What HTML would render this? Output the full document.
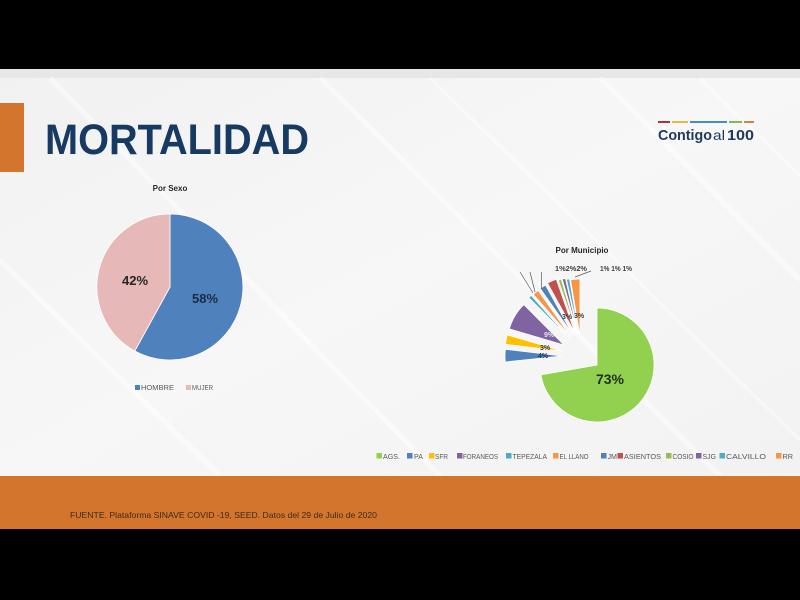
<!DOCTYPE html>
<html>
<head>
<meta charset="utf-8">
<style>
html,body{margin:0;padding:0;background:#000;}
body{width:800px;height:600px;overflow:hidden;position:relative;font-family:"Liberation Sans",sans-serif;}
svg{position:absolute;left:0;top:0;}
</style>
</head>
<body>
<svg width="800" height="600" viewBox="0 0 800 600" xmlns="http://www.w3.org/2000/svg">
  <defs>
    <linearGradient id="bg" x1="0" y1="0" x2="1" y2="1">
      <stop offset="0" stop-color="#f1f1f1"/>
      <stop offset="0.5" stop-color="#f7f7f7"/>
      <stop offset="1" stop-color="#f2f2f2"/>
    </linearGradient>
  </defs>
  <!-- black frame -->
  <rect x="0" y="0" width="800" height="600" fill="#000"/>
  <!-- slide background -->
  <rect x="0" y="69" width="800" height="407" fill="url(#bg)"/>
  <rect x="0" y="69" width="800" height="9" fill="#e7e7e7"/>
  <!-- faint diagonal streaks -->
  <g stroke="#ffffff" stroke-width="5" opacity="0.5">
    <line x1="50" y1="78" x2="440" y2="476"/>
    <line x1="320" y1="78" x2="720" y2="476"/>
    <line x1="600" y1="78" x2="800" y2="280"/>
    <line x1="0" y1="260" x2="220" y2="476"/>
  </g>
  <g stroke="#ffffff" stroke-width="3" opacity="0.45">
    <line x1="430" y1="78" x2="800" y2="440"/>
    <line x1="700" y1="78" x2="800" y2="176"/>
  </g>

  <!-- left orange tab -->
  <rect x="0" y="103" width="24" height="69" fill="#d4752e"/>
  <!-- bottom orange bar -->
  <rect x="0" y="476" width="800" height="53" fill="#d4752e"/>
  <text x="70" y="518" font-family="Liberation Sans, sans-serif" font-size="8.5" fill="#3b2a1c" textLength="307" lengthAdjust="spacingAndGlyphs">FUENTE. Plataforma SINAVE COVID -19, SEED. Datos del 29 de Julio de 2020</text>

  <!-- title -->
  <text x="45" y="154" font-family="Liberation Sans, sans-serif" font-weight="bold" font-size="42.5" fill="#163a61" textLength="264" lengthAdjust="spacingAndGlyphs">MORTALIDAD</text>

  <!-- logo -->
  <rect x="658" y="121" width="12" height="2" fill="#a8343f"/>
  <rect x="672" y="121" width="16" height="2" fill="#e6b74a"/>
  <rect x="690" y="121" width="37" height="2" fill="#3f8fc9"/>
  <rect x="729" y="121" width="13" height="2" fill="#86b84a"/>
  <rect x="744" y="121" width="10" height="2" fill="#d4843f"/>
  <text x="658" y="140" font-family="Liberation Sans, sans-serif" font-weight="bold" font-size="15" fill="#1d3a5c" textLength="54" lengthAdjust="spacingAndGlyphs">Contigo</text>
  <text x="713" y="140" font-family="Liberation Sans, sans-serif" font-size="14" fill="#1d3a5c" textLength="12" lengthAdjust="spacingAndGlyphs">al</text>
  <text x="727" y="140" font-family="Liberation Sans, sans-serif" font-weight="bold" font-size="15" fill="#1d3a5c" textLength="27" lengthAdjust="spacingAndGlyphs">100</text>

  <!-- Pie 1: Por Sexo -->
  <text x="170" y="191" text-anchor="middle" font-family="Liberation Sans, sans-serif" font-weight="bold" font-size="8" fill="#262626">Por Sexo</text>
  <path d="M170,287 L170,214 A73,73 0 1,1 134.8,351 Z" fill="#4f81bd" stroke="#ffffff" stroke-width="0.8"/>
  <path d="M170,287 L134.8,351 A73,73 0 0,1 170,214 Z" fill="#e6b8b7" stroke="#ffffff" stroke-width="0.8"/>
  <text x="135" y="285" text-anchor="middle" font-family="Liberation Sans, sans-serif" font-weight="bold" font-size="13" fill="#262626">42%</text>
  <text x="205" y="303" text-anchor="middle" font-family="Liberation Sans, sans-serif" font-weight="bold" font-size="13" fill="#1a2b44">58%</text>
  <rect x="135" y="385" width="5" height="5" fill="#4f81bd"/>
  <text x="141" y="390" font-family="Liberation Sans, sans-serif" font-size="7" fill="#595959" textLength="33" lengthAdjust="spacingAndGlyphs">HOMBRE</text>
  <rect x="186" y="385" width="5" height="5" fill="#e6b8b7"/>
  <text x="192" y="390" font-family="Liberation Sans, sans-serif" font-size="7" fill="#595959" textLength="21" lengthAdjust="spacingAndGlyphs">MUJER</text>

  <!-- Pie 2: Por Municipio -->
  <text x="582" y="253" text-anchor="middle" font-family="Liberation Sans, sans-serif" font-weight="bold" font-size="8" fill="#262626">Por Municipio</text>
  <g stroke="#ffffff" stroke-width="0.8">
    <path d="M597,365 L597,308 A57,57 0 1,1 540.9,374.9 Z" fill="#92d050"/>
    <path d="M562,356 L505.3,362.0 A57,57 0 0,1 505.4,349.3 Z" fill="#4f81bd"/>
    <path d="M562,351 L505.4,344.3 A57,57 0 0,1 507.3,334.9 Z" fill="#ffc000"/>
    <path d="M564,345 L509.3,328.9 A57,57 0 0,1 523.8,304.6 Z" fill="#8064a2"/>
    <path d="M569,338 L528.8,297.6 A57,57 0 0,1 531.2,295.4 Z" fill="#4bacc6"/>
    <path d="M571,337 L533.2,294.4 A57,57 0 0,1 538.1,290.4 Z" fill="#f79646"/>
    <path d="M573,335 L540.1,288.4 A57,57 0 0,1 545.5,285.1 Z" fill="#4f81bd"/>
    <path d="M575,333 L547.5,283.1 A57,57 0 0,1 556.3,279.2 Z" fill="#c0504d"/>
    <path d="M577,334 L558.3,280.2 A57,57 0 0,1 561.3,279.2 Z" fill="#9bbb59"/>
    <path d="M578,334 L562.3,279.2 A57,57 0 0,1 565.4,278.4 Z" fill="#8064a2"/>
    <path d="M579,335 L566.4,279.4 A57,57 0 0,1 569.5,278.8 Z" fill="#4bacc6"/>
    <path d="M580,336 L570.5,279.8 A57,57 0 0,1 580,279 Z" fill="#f79646"/>
  </g>
  <!-- leader lines -->
  <g stroke="#595959" stroke-width="0.7" fill="none">
    <line x1="520" y1="272" x2="533" y2="293"/>
    <line x1="530" y1="272" x2="535" y2="292"/>
    <line x1="541.5" y1="272" x2="541.5" y2="289"/>
    <line x1="591" y1="271" x2="575" y2="277"/>
  </g>
  <g font-family="Liberation Sans, sans-serif" font-weight="bold" font-size="7">
    <text x="555" y="271" fill="#404040" textLength="32" lengthAdjust="spacingAndGlyphs">1%2%2%</text>
    <text x="600" y="271" fill="#404040" textLength="32" lengthAdjust="spacingAndGlyphs">1% 1% 1%</text>
    <text x="567" y="319" text-anchor="middle" fill="#404040">3%</text>
    <text x="579" y="318" text-anchor="middle" fill="#404040">3%</text>
    <text x="549" y="337" text-anchor="middle" fill="#e8e0f0">9%</text>
    <text x="545" y="350" text-anchor="middle" fill="#3a3a3a">3%</text>
    <text x="543" y="358" text-anchor="middle" fill="#1f3a60">4%</text>
  </g>
  <text x="610" y="384" text-anchor="middle" font-family="Liberation Sans, sans-serif" font-weight="bold" font-size="14" fill="#1f2f1a">73%</text>

  <!-- legend pie 2 -->
  <g font-family="Liberation Sans, sans-serif" font-size="7" fill="#595959">
    <rect x="376.5" y="453" width="5.5" height="5.5" fill="#92d050"/>
    <text x="383" y="459" textLength="17" lengthAdjust="spacingAndGlyphs">AGS.</text>
    <rect x="407" y="453" width="5.5" height="5.5" fill="#4f81bd"/>
    <text x="414" y="459" textLength="9" lengthAdjust="spacingAndGlyphs">PA</text>
    <rect x="429" y="453" width="5.5" height="5.5" fill="#ffc000"/>
    <text x="435" y="459" textLength="13" lengthAdjust="spacingAndGlyphs">SFR</text>
    <rect x="457" y="453" width="5.5" height="5.5" fill="#8064a2"/>
    <text x="463" y="459" textLength="35" lengthAdjust="spacingAndGlyphs">FORANEOS</text>
    <rect x="506" y="453" width="5.5" height="5.5" fill="#4bacc6"/>
    <text x="512.5" y="459" textLength="34.5" lengthAdjust="spacingAndGlyphs">TEPEZALA</text>
    <rect x="553" y="453" width="5.5" height="5.5" fill="#f79646"/>
    <text x="559.5" y="459" textLength="29" lengthAdjust="spacingAndGlyphs">EL LLANO</text>
    <rect x="601" y="453" width="5.5" height="5.5" fill="#4f81bd"/>
    <text x="607.5" y="459" textLength="9.5" lengthAdjust="spacingAndGlyphs">JM</text>
    <rect x="617.5" y="453" width="5.5" height="5.5" fill="#c0504d"/>
    <text x="624" y="459" textLength="37" lengthAdjust="spacingAndGlyphs">ASIENTOS</text>
    <rect x="666" y="453" width="5.5" height="5.5" fill="#9bbb59"/>
    <text x="672.5" y="459" textLength="21" lengthAdjust="spacingAndGlyphs">COSIO</text>
    <rect x="696" y="453" width="5.5" height="5.5" fill="#8064a2"/>
    <text x="702.5" y="459" textLength="13.5" lengthAdjust="spacingAndGlyphs">SJG</text>
    <rect x="719.5" y="453" width="5.5" height="5.5" fill="#4bacc6"/>
    <text x="726" y="459" textLength="40" lengthAdjust="spacingAndGlyphs">CALVILLO</text>
    <rect x="776" y="453" width="5.5" height="5.5" fill="#f79646"/>
    <text x="782.5" y="459" textLength="10.5" lengthAdjust="spacingAndGlyphs">RR</text>
  </g>
</svg>
</body>
</html>
